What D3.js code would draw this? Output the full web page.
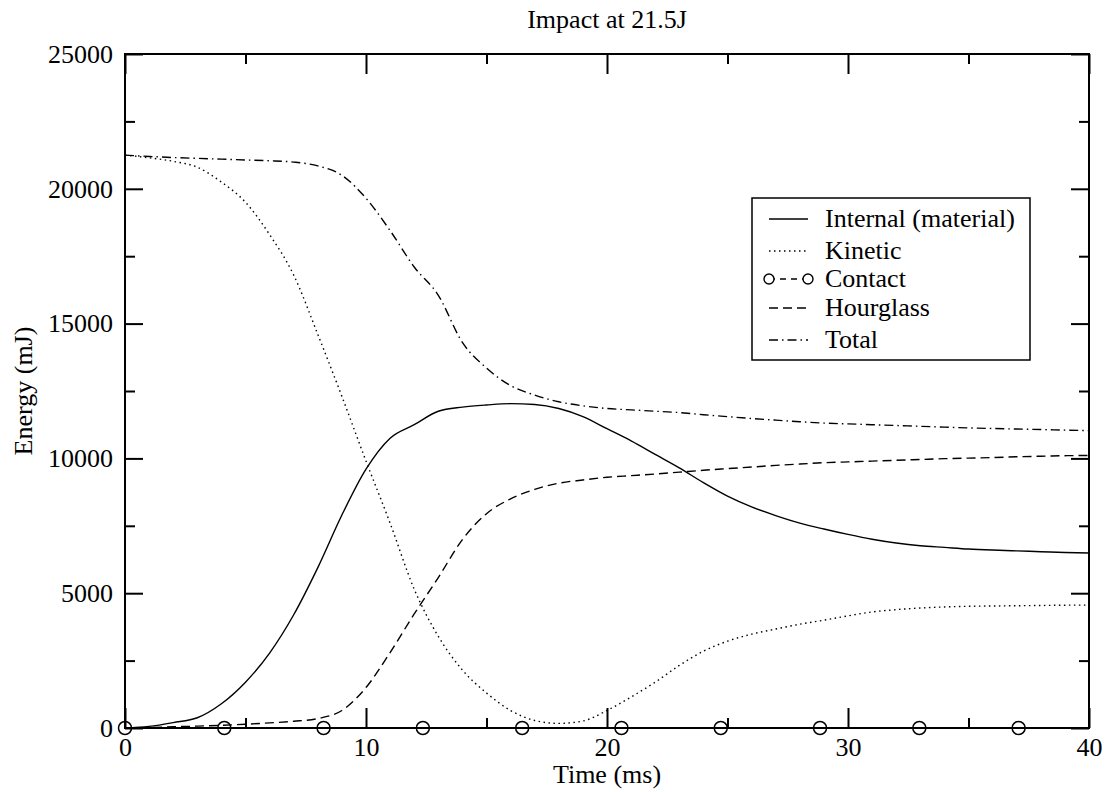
<!DOCTYPE html>
<html><head><meta charset="utf-8">
<script src="https://cdn.jsdelivr.net/npm/d3@7"></script>
<style>body{margin:0;background:#fff}svg{display:block}text{font-family:"Liberation Serif","Times New Roman",serif;fill:#000}</style>
</head><body><svg id="c" width="1113" height="792"></svg>
<script>
const time = [0,1,2,3,4,5,6,7,8,9,10,11,12,13,14,15,16,17,18,19,20,21,22,23,24,25,26,27,28,29,30,31,32,33,34,35,36,37,38,39,40];
const internal = [0,60,200,380,900,1700,2780,4200,5950,7900,9600,10750,11250,11750,11900,11980,12030,12000,11850,11550,11100,10650,10150,9650,9100,8600,8200,7880,7600,7380,7180,7000,6860,6760,6700,6640,6600,6570,6540,6510,6490];
const kinetic = [21250,21150,21020,20800,20250,19500,18300,16800,14600,12300,9900,7600,5150,3400,2150,1300,650,280,170,260,650,1150,1700,2320,2850,3220,3480,3670,3850,4000,4160,4305,4390,4450,4490,4515,4525,4535,4545,4555,4560];
const hourglass = [0,20,45,70,100,140,190,250,350,650,1500,2800,4230,5580,6990,7950,8500,8850,9080,9200,9300,9360,9420,9490,9560,9620,9680,9740,9790,9840,9870,9900,9930,9960,9990,10010,10030,10060,10080,10100,10110];
const total = [21250,21200,21160,21130,21100,21070,21040,20990,20850,20500,19650,18450,17100,16050,14300,13350,12700,12350,12100,11950,11850,11800,11750,11700,11620,11550,11480,11420,11360,11310,11280,11250,11220,11190,11160,11130,11110,11090,11070,11050,11030];
const contactT = [0,40];
const contactE = [0,0];
const contactMarkT = [0,4.12,8.24,12.36,16.48,20.6,24.72,28.84,32.96,37.08];
const xMajor = [0,10,20,30,40];
const xMinor = [5,15,25,35];
const yMajor = [0,5000,10000,15000,20000,25000];
const yMinor = [2500,7500,12500,17500,22500];
const legendNames = ["Internal (material)","Kinetic","Contact","Hourglass","Total"];

const svg = d3.select("#c");
const L=125,R=1089,T=54,B=728;
const x = d3.scaleLinear().domain([0,40]).range([L,R]);
const y = d3.scaleLinear().domain([0,25000]).range([B,T]);
const FS = 26;

// title
svg.append("text").attr("x",(L+R)/2).attr("y",28).attr("text-anchor","middle").attr("font-size",FS).text("Impact at 21.5J");

// axes
function styleAxis(g){g.select(".domain").remove();g.selectAll("line").attr("stroke","#000").attr("stroke-width",2);g.selectAll("text").attr("font-size",FS).attr("font-family","Liberation Serif");}
svg.append("g").attr("transform",`translate(0,${B})`).call(d3.axisBottom(x).tickValues(xMajor).tickSize(-20).tickPadding(10).tickFormat(d3.format("d"))).call(styleAxis);
svg.append("g").attr("transform",`translate(0,${B})`).call(d3.axisBottom(x).tickValues(xMinor).tickSize(-10).tickFormat("")).call(styleAxis);
svg.append("g").attr("transform",`translate(0,${T})`).call(d3.axisTop(x).tickValues(xMajor).tickSize(-20).tickFormat("")).call(styleAxis);
svg.append("g").attr("transform",`translate(0,${T})`).call(d3.axisTop(x).tickValues(xMinor).tickSize(-10).tickFormat("")).call(styleAxis);
svg.append("g").attr("transform",`translate(${L},0)`).call(d3.axisLeft(y).tickValues(yMajor).tickSize(-18).tickPadding(12).tickFormat(d3.format("d"))).call(styleAxis);
svg.append("g").attr("transform",`translate(${L},0)`).call(d3.axisLeft(y).tickValues(yMinor).tickSize(-10).tickFormat("")).call(styleAxis);
svg.append("g").attr("transform",`translate(${R},0)`).call(d3.axisRight(y).tickValues(yMajor).tickSize(-18).tickFormat("")).call(styleAxis);
svg.append("g").attr("transform",`translate(${R},0)`).call(d3.axisRight(y).tickValues(yMinor).tickSize(-10).tickFormat("")).call(styleAxis);

// axis titles
svg.append("text").attr("x",(L+R)/2).attr("y",783).attr("text-anchor","middle").attr("font-size",FS).text("Time (ms)");
svg.append("text").attr("transform",`translate(32,${(T+B)/2}) rotate(-90)`).attr("text-anchor","middle").attr("font-size",FS).text("Energy (mJ)");

// series
const line = d3.line().x(d=>x(d[0])).y(d=>y(d[1])).curve(d3.curveMonotoneX);
const styles = [
  {data:internal, dash:null},
  {data:kinetic, dash:"1.5,3.5"},
  {data:hourglass, dash:"9,5"},
  {data:total, dash:"9,4,1.5,4"}
];
const plot = svg.append("g");
styles.forEach(s=>{
  plot.append("path").datum(time.map((t,i)=>[t,s.data[i]])).attr("d",line)
    .attr("fill","none").attr("stroke","#000").attr("stroke-width",1.4)
    .attr("stroke-dasharray",s.dash);
});
plot.append("path").datum(contactT.map((t,i)=>[t,contactE[i]])).attr("d",d3.line().x(d=>x(d[0])).y(d=>y(d[1])))
  .attr("fill","none").attr("stroke","#000").attr("stroke-width",1.4).attr("stroke-dasharray","9,5");

// frame
svg.append("rect").attr("x",L).attr("y",T).attr("width",R-L).attr("height",B-T).attr("fill","none").attr("stroke","#000").attr("stroke-width",2);

// contact markers
plot.selectAll("circle.m").data(contactMarkT).join("circle").attr("class","m")
  .attr("cx",d=>x(d)).attr("cy",y(0)).attr("r",6.5).attr("fill","none").attr("stroke","#000").attr("stroke-width",1.5);

// legend
const lg = svg.append("g");
lg.append("rect").attr("x",752).attr("y",198).attr("width",278).attr("height",162).attr("fill","#fff").attr("stroke","#000").attr("stroke-width",1.5);
const rowY = [219,251,279,308,340];
const dashes = [null,"1.5,3.5","6,5","9,5","9,4,1.5,4"];
legendNames.forEach((n,i)=>{
  lg.append("line").attr("x1",769).attr("x2",808).attr("y1",rowY[i]).attr("y2",rowY[i])
    .attr("stroke","#000").attr("stroke-width",1.4).attr("stroke-dasharray",dashes[i]);
  if(i===2){
    [769,808].forEach(cx=>lg.append("circle").attr("cx",cx).attr("cy",rowY[i]).attr("r",5).attr("fill","#fff").attr("stroke","#000").attr("stroke-width",1.4));
  }
  lg.append("text").attr("x",825).attr("y",rowY[i]).attr("dy","0.32em").attr("font-size",FS).text(n);
});
</script></body></html>
